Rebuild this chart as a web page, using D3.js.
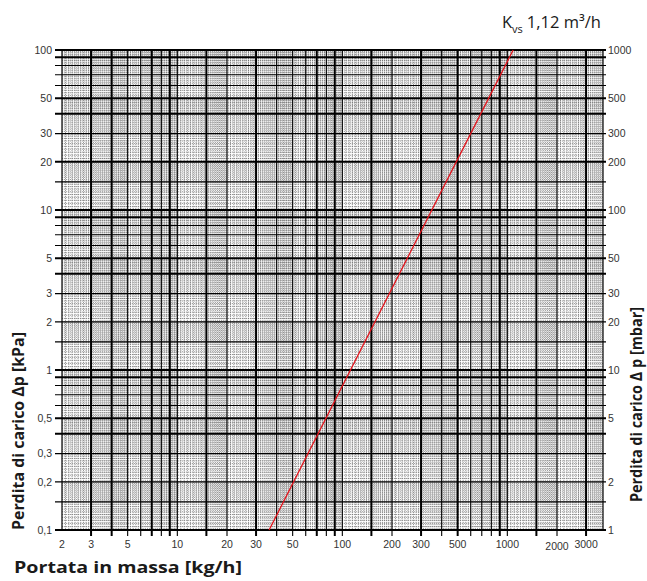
<!DOCTYPE html>
<html>
<head>
<meta charset="utf-8">
<script src="https://cdn.jsdelivr.net/npm/d3@7"></script>
<style>
  body { margin: 0; background: #fff; }
  svg { display: block; }
</style>
</head>
<body>
<div class="container"></div>
<script>
// Kvs 1,12 line (kg/h vs kPa)
const massFlow = [36, 1085]
const pressureDrop = [0.1, 100]

// tick labels
const xTickValues = [2, 3, 5, 10, 20, 30, 50, 100, 200, 300, 500, 1000, 2000, 3000]
const yTicksKpa = [0.1, 0.2, 0.3, 0.5, 1, 2, 3, 5, 10, 20, 30, 50, 100]
const yTicksMbar = [1, 2, 5, 10, 20, 30, 50, 100, 200, 300, 500, 1000]

// printed grid of the log paper
const xGridThick = [3, 4, 7, 9, 15, 30, 70, 90, 150, 300, 500, 900, 1500, 3000]
const xGridMedium = [5, 6, 8, 10, 20, 40, 50, 60, 80, 100, 200, 400, 600, 700, 800, 1000, 2000]
const yGridThick = [0.4, 0.5, 0.9, 1, 4, 5, 9, 10, 20, 40, 50, 90, 100]
const yGridMedium = [0.15, 0.2, 0.3, 0.6, 0.7, 0.8, 1.5, 2, 3, 6, 7, 8, 15, 30, 60, 70, 80]

const w = 647
const h = 581
const pLeft = 62, pRight = 603, pTop = 50, pBottom = 530

const xScale = d3.scaleLog().domain([2, 3800]).range([pLeft, pRight])
const yScale = d3.scaleLog().domain([0.1, 100]).range([pBottom, pTop])
const yScaleMbar = d3.scaleLog().domain([1, 1000]).range([pBottom, pTop])

// fine rulings: 1-2 every 0.05, 2-5 every 0.1, 5-10 every 0.2
const fineValues = (min, max) => {
    const vals = []
    for (let e = Math.floor(Math.log10(min)); e <= Math.ceil(Math.log10(max)); e++) {
        const p = Math.pow(10, e)
        for (let k = 20; k < 200; k++) {
            const m = k * 0.05
            if (m < 2 || (m < 5 && k % 2 === 0) || k % 4 === 0) {
                const v = m * p
                if (v > min * 1.001 && v < max * 0.999) vals.push(v)
            }
        }
    }
    return vals
}

const svg = d3.select(".container")
    .append("svg")
    .attr("width", w)
    .attr("height", h)

svg.append("defs").append("clipPath")
    .attr("id", "plot")
    .append("rect")
    .attr("x", pLeft).attr("y", pTop)
    .attr("width", pRight - pLeft).attr("height", pBottom - pTop)

const grid = svg.append("g").attr("clip-path", "url(#plot)")

grid.selectAll(".fx")
    .data(fineValues(2, 3800))
    .enter()
    .append("line")
    .attr("x1", d => xScale(d)).attr("x2", d => xScale(d))
    .attr("y1", pTop).attr("y2", pBottom)
    .attr("stroke", "#6a6a6a")
    .attr("stroke-width", 0.7)
    .attr("stroke-dasharray", "1.2,0.8")

grid.selectAll(".fy")
    .data(fineValues(0.1, 100))
    .enter()
    .append("line")
    .attr("y1", d => yScale(d)).attr("y2", d => yScale(d))
    .attr("x1", pLeft).attr("x2", pRight)
    .attr("stroke", "#6a6a6a")
    .attr("stroke-width", 0.7)
    .attr("stroke-dasharray", "1.2,0.8")

// heavier rulings, running out a little as ticks
const drawV = (vals, width) => {
    svg.append("g").selectAll("line")
        .data(vals)
        .enter()
        .append("line")
        .attr("x1", d => xScale(d)).attr("x2", d => xScale(d))
        .attr("y1", pTop).attr("y2", pBottom + 6)
        .attr("stroke", "#000")
        .attr("stroke-width", width)
}
const drawH = (vals, width) => {
    svg.append("g").selectAll("line")
        .data(vals)
        .enter()
        .append("line")
        .attr("y1", d => yScale(d)).attr("y2", d => yScale(d))
        .attr("x1", pLeft - 7).attr("x2", pRight + 3)
        .attr("stroke", "#000")
        .attr("stroke-width", width)
}
drawV(xGridMedium, 1.1)
drawV(xGridThick, 2)
drawH(yGridMedium, 1.1)
drawH(yGridThick, 2)

// frame
svg.append("rect")
    .attr("x", pLeft).attr("y", pTop)
    .attr("width", pRight - pLeft).attr("height", pBottom - pTop)
    .attr("fill", "none")
    .attr("stroke", "#000")
    .attr("stroke-width", 1.2)
svg.append("line")
    .attr("x1", pLeft - 7).attr("x2", pRight + 3)
    .attr("y1", pBottom).attr("y2", pBottom)
    .attr("stroke", "#000").attr("stroke-width", 2)

// Kvs line
const line = d3.line()
    .x(d => xScale(d[0]))
    .y(d => yScale(d[1]))
svg.append("path")
    .datum(d3.zip(massFlow, pressureDrop))
    .attr("d", line)
    .attr("fill", "none")
    .attr("stroke", "#e3141c")
    .attr("stroke-width", 1.3)

const comma = d => String(d).replace(".", ",")

svg.append("g").selectAll("text")
    .data(yTicksKpa)
    .enter()
    .append("text")
    .attr("x", 52)
    .attr("y", d => yScale(d))
    .attr("dy", "0.35em")
    .attr("text-anchor", "end")
    .attr("font-family", "Liberation Sans, Arial, sans-serif")
    .attr("font-size", 10.5)
    .attr("fill", "#333")
    .text(comma)

svg.append("g").selectAll("text")
    .data(yTicksMbar)
    .enter()
    .append("text")
    .attr("x", 608)
    .attr("y", d => yScaleMbar(d))
    .attr("dy", "0.35em")
    .attr("font-family", "Liberation Sans, Arial, sans-serif")
    .attr("font-size", 10.5)
    .attr("fill", "#333")
    .text(d => d)

svg.append("g").selectAll("text")
    .data(xTickValues)
    .enter()
    .append("text")
    .attr("x", d => xScale(d))
    .attr("y", d => d === 2000 ? 550 : 548)
    .attr("text-anchor", "middle")
    .attr("font-family", "Liberation Sans, Arial, sans-serif")
    .attr("font-size", 10.5)
    .attr("fill", "#333")
    .text(d => d)

// axis titles
svg.append("text")
    .attr("x", 14)
    .attr("y", 573)
    .attr("font-family", "Open Sans, sans-serif")
    .attr("font-weight", "bold")
    .attr("font-size", 16)
    .attr("fill", "#1a1a1a")
    .attr("textLength", 228)
    .attr("lengthAdjust", "spacingAndGlyphs")
    .text("Portata in massa [kg/h]")

svg.append("text")
    .attr("transform", "translate(24,530) rotate(-90)")
    .attr("font-family", "Open Sans, sans-serif")
    .attr("font-weight", "bold")
    .attr("font-size", 15.5)
    .attr("fill", "#1a1a1a")
    .attr("textLength", 198)
    .attr("lengthAdjust", "spacingAndGlyphs")
    .text("Perdita di carico Δp [kPa]")

svg.append("text")
    .attr("transform", "translate(642,502) rotate(-90)")
    .attr("font-family", "Open Sans, sans-serif")
    .attr("font-weight", "bold")
    .attr("font-size", 15.5)
    .attr("fill", "#1a1a1a")
    .attr("textLength", 195)
    .attr("lengthAdjust", "spacingAndGlyphs")
    .text("Perdita di carico Δ p [mbar]")

// Kvs label
const kvs = svg.append("text")
    .attr("x", 502)
    .attr("y", 28)
    .attr("font-family", "Open Sans, sans-serif")
    .attr("font-size", 16.5)
    .attr("fill", "#1a1a1a")
kvs.append("tspan").text("K")
kvs.append("tspan").attr("font-size", 11).attr("dy", 5).text("vs")
kvs.append("tspan").attr("dy", -5).attr("dx", 4).text("1,12 m³/h")
</script>
</body>
</html>
